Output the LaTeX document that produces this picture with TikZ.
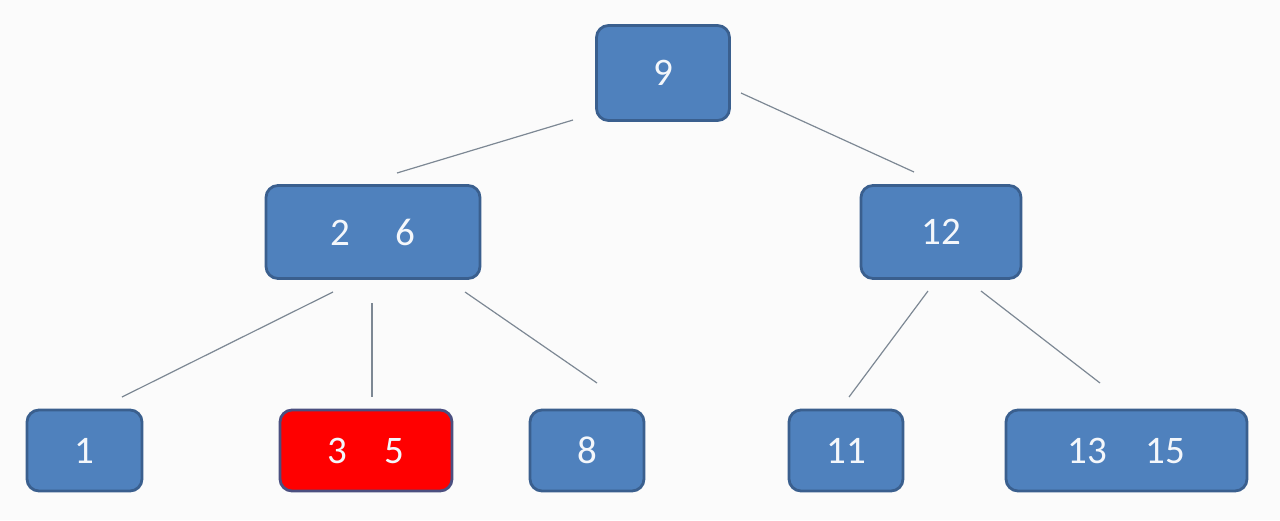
\documentclass[tikz,border=0pt]{standalone}
\usepackage{fontspec}
\setmainfont{Carlito}
\definecolor{boxblue}{HTML}{4F81BD}
\definecolor{boxedge}{HTML}{3A5F8E}
\definecolor{rededge}{HTML}{4B4F80}
\definecolor{linkgray}{HTML}{7D8894}
\definecolor{bg}{HTML}{FBFBFB}
\definecolor{txt}{HTML}{F4F7FB}
\begin{document}
\begin{tikzpicture}[x=0.5pt,y=-0.5pt,
  keybox/.style={draw=boxedge, line width=1.4pt, fill=boxblue, rounded corners=6pt,
    text=txt, font=\fontsize{19.5}{22}\selectfont, inner sep=0pt, anchor=center},
  redbox/.style={keybox, fill=red, draw=rededge},
  link/.style={draw=linkgray, line width=0.6pt}]
\fill[bg] (0,0) rectangle (1280,520);
\useasboundingbox (0,0) rectangle (1280,520);
\node[keybox, minimum width=66.5pt, minimum height=47.5pt] (n9) at (663,73) {9};
\node[keybox, minimum width=107pt, minimum height=46.5pt] (n26) at (373,232) {2\hspace{23pt}6};
\node[keybox, minimum width=80pt, minimum height=46.5pt] (n12) at (941,232) {12};
\node[keybox, minimum width=57.5pt, minimum height=40.5pt] (n1) at (84.5,450.5) {1};
\node[redbox, minimum width=86pt, minimum height=40.5pt] (n35) at (366,450.5) {3\hspace{19pt}5};
\node[keybox, minimum width=57pt, minimum height=40.5pt] (n8) at (587,450.5) {8};
\node[keybox, minimum width=57pt, minimum height=40.5pt] (n11) at (846,450.5) {11};
\node[keybox, minimum width=120.5pt, minimum height=40.5pt] (n1315) at (1126.5,450.5) {13\hspace{19pt}15};
\coordinate (a1) at (573,120); \coordinate (b1) at (397,173);
\coordinate (a2) at (741,93);  \coordinate (b2) at (914,172);
\coordinate (a3) at (333,292); \coordinate (b3) at (122,397);
\coordinate (a4) at (372,303); \coordinate (b4) at (372,397);
\coordinate (a5) at (465,292); \coordinate (b5) at (597,383);
\coordinate (a6) at (928,291); \coordinate (b6) at (849,397);
\coordinate (a7) at (981,291); \coordinate (b7) at (1100,383);
\draw[link] (a1) -- (b1);
\draw[link] (a2) -- (b2);
\draw[link] (a3) -- (b3);
\draw[link] (a4) -- (b4);
\draw[link] (a5) -- (b5);
\draw[link] (a6) -- (b6);
\draw[link] (a7) -- (b7);
\end{tikzpicture}
\end{document}
